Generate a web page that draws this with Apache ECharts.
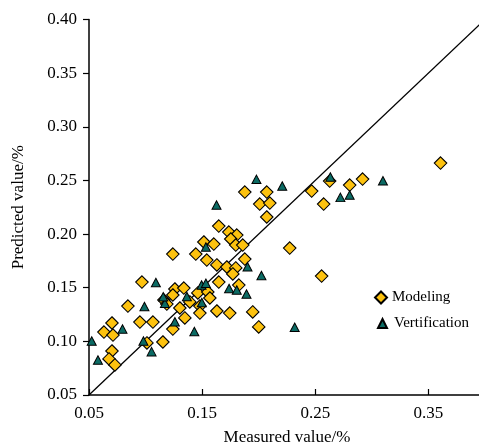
<!DOCTYPE html>
<html>
<head>
<meta charset="utf-8">
<script src="https://cdn.jsdelivr.net/npm/echarts@6/dist/echarts.min.js"></script>
<style>html,body{margin:0;padding:0;background:#fff;overflow:hidden;}#c{width:479px;height:445px;}</style>
</head>
<body>
<div id="c"></div>
<script>
const modelingX = [0.3607,0.2918,0.2627,0.2804,0.2468,0.2574,0.2556,0.2274,0.1877,0.2071,0.2009,0.2098,0.2071,0.1647,0.1736,0.1806,0.1753,0.1797,0.1859,0.1515,0.1603,0.1241,0.1444,0.1541,0.1630,0.1877,0.1718,0.1797,0.1771,0.1647,0.1824,0.0968,0.1259,0.1338,0.1462,0.1550,0.1241,0.1568,0.1391,0.1162,0.1188,0.1480,0.1303,0.1347,0.1480,0.1630,0.1744,0.1947,0.2000,0.0844,0.0950,0.1065,0.0703,0.0632,0.0712,0.1012,0.1153,0.0703,0.0677,0.0729,0.1241];
const modelingY = [0.2662,0.2513,0.2494,0.2457,0.2401,0.2280,0.1609,0.1870,0.2392,0.2392,0.2280,0.2289,0.2159,0.2075,0.2019,0.1991,0.1954,0.1898,0.1898,0.1926,0.1907,0.1814,0.1814,0.1758,0.1712,0.1767,0.1693,0.1684,0.1628,0.1553,0.1525,0.1553,0.1488,0.1497,0.1451,0.1460,0.1432,0.1404,0.1367,0.1385,0.1348,0.1329,0.1311,0.1218,0.1264,0.1283,0.1264,0.1274,0.1134,0.1329,0.1180,0.1180,0.1171,0.1087,0.1059,0.0985,0.0994,0.0910,0.0836,0.0780,0.1115];
const verifX = [0.0524,0.0579,0.0796,0.1091,0.0990,0.0981,0.1053,0.1259,0.1431,0.1171,0.1156,0.1365,0.1497,0.1495,0.1533,0.1980,0.2208,0.1627,0.2633,0.2722,0.2804,0.3098,0.1533,0.1901,0.2024,0.1738,0.1806,0.1892,0.2318];
const verifY = [0.1003,0.0826,0.1115,0.1548,0.1325,0.1003,0.0904,0.1183,0.1092,0.1355,0.1416,0.1418,0.1362,0.1525,0.1541,0.2510,0.2448,0.2271,0.2532,0.2342,0.2364,0.2497,0.1879,0.1696,0.1614,0.1493,0.1479,0.1441,0.1131];
const refLineX = [0.05, 0.40];
const refLineY = [0.05, 0.40];
const xTickStart = 0.05, xTickStep = 0.1, xMax = 0.40;
const yMin = 0.05, yMax = 0.40, yStep = 0.05;
const seriesNames = ['Modeling', 'Vertification'];
const xName = 'Measured value/%';
const yName = 'Predicted value/%';

const zip = (a, b) => a.map((v, i) => [v, b[i]]);
const font = '"Liberation Serif", "Times New Roman", serif';
const chart = echarts.init(document.getElementById('c'), null, {renderer: 'canvas'});
chart.setOption({
  backgroundColor: '#ffffff',
  animation: false,
  grid: {left: 89, top: 19.5, width: 396, height: 375.5, containLabel: false, outerBoundsMode: 'none'},
  xAxis: {
    type: 'value', min: xTickStart, max: xMax, interval: xTickStep,
    name: xName, nameLocation: 'middle', nameGap: 34,
    nameTextStyle: {fontFamily: font, fontSize: 17, color: '#000'},
    axisLine: {lineStyle: {color: '#000', width: 1.5}},
    axisTick: {inside: true, length: 6, lineStyle: {color: '#000', width: 1.2}},
    axisLabel: {fontFamily: font, fontSize: 17, color: '#000', margin: 10,
      formatter: v => (Math.abs(v - xMax) < 1e-6 ? '' : v.toFixed(2))},
    splitLine: {show: false}
  },
  yAxis: {
    type: 'value', min: yMin, max: yMax, interval: yStep,
    name: yName, nameLocation: 'middle', nameGap: 62,
    nameTextStyle: {fontFamily: font, fontSize: 17, color: '#000'},
    axisLine: {lineStyle: {color: '#000', width: 1.5}},
    axisTick: {inside: false, length: 6, lineStyle: {color: '#000', width: 1.2}},
    axisLabel: {fontFamily: font, fontSize: 17, color: '#000', margin: 12,
      formatter: v => v.toFixed(2)},
    splitLine: {show: false}
  },
  legend: [
    {data: [seriesNames[0]], orient: 'vertical', left: 369, top: 285,
     itemWidth: 12, itemHeight: 12,
     textStyle: {fontFamily: font, fontSize: 15, color: '#000'}},
    {data: [seriesNames[1]], orient: 'vertical', left: 372, top: 311,
     itemWidth: 9, itemHeight: 9,
     textStyle: {fontFamily: font, fontSize: 15, color: '#000', padding: [0,0,0,2]}}
  ],
  series: [
    {type: 'line', data: zip(refLineX, refLineY), symbol: 'none', silent: true,
     lineStyle: {color: '#000', width: 1.3}, z: 1},
    {name: seriesNames[0], type: 'scatter', data: zip(modelingX, modelingY),
     symbol: 'diamond', symbolSize: 12.5,
     itemStyle: {color: '#FDC20F', borderColor: '#000', borderWidth: 1.1, opacity: 1}, z: 2},
    {name: seriesNames[1], type: 'scatter', data: zip(verifX, verifY),
     symbol: 'triangle', symbolSize: [9, 8.5],
     itemStyle: {color: '#0B6B64', borderColor: '#000', borderWidth: 1, opacity: 1}, z: 3}
  ]
});
</script>
</body>
</html>
